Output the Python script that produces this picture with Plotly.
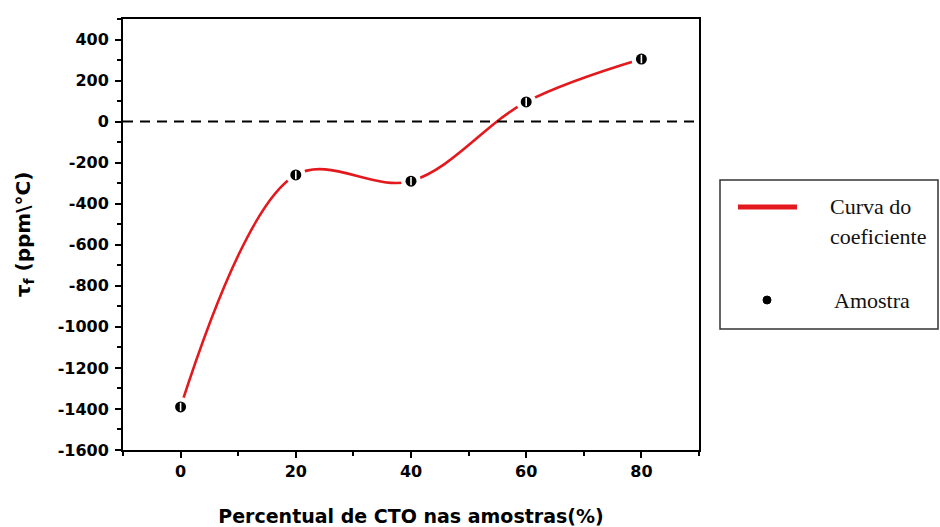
import plotly.graph_objects as go

# Temperature coefficient of resonant frequency vs. CTO content
cto_pct = [0, 20, 40, 60, 80]
tau_f = [-1390, -260, -290, 96, 305]

x_tickvals = [0, 20, 40, 60, 80]
y_tickvals = [400, 200, 0, -200, -400, -600, -800, -1000, -1200, -1400, -1600]
y_ticktext = ["400", "200", "0", "-200", "-400", "-600", "-800", "-1000", "-1200", "-1400", "-1600"]

x_range = [-10, 90]
y_range = [-1600, 500]

W, H = 940, 527
ML, MR, MT, MB = 123, 241, 19, 77
PW, PH = W - ML - MR, H - MT - MB


def pxx(x):
    """pixel x -> paper x"""
    return (x - ML) / PW


def pxy(y):
    """pixel y -> paper y"""
    return (H - MB - y) / PH


RED = "#e3191e"
SANS = "DejaVu Sans, Arial, sans-serif"
tick_font = dict(family=SANS, size=16, color="black", weight="bold")
serif = dict(family="Liberation Serif, Times New Roman, serif", size=22, color="#111111")

fig = go.Figure()

# smooth fitted curve
fig.add_trace(go.Scatter(
    x=cto_pct, y=tau_f, mode="lines",
    line=dict(color=RED, width=2.6, shape="spline", smoothing=1.0),
    showlegend=False, hoverinfo="skip",
))
# white halo around each sample point
fig.add_trace(go.Scatter(
    x=cto_pct, y=tau_f, mode="markers",
    marker=dict(symbol="circle", size=20, color="white"),
    showlegend=False, hoverinfo="skip",
))
# sample points
fig.add_trace(go.Scatter(
    x=cto_pct, y=tau_f, mode="markers",
    marker=dict(symbol="circle", size=11, color="black"),
    showlegend=False,
))
fig.add_trace(go.Scatter(
    x=cto_pct, y=tau_f, mode="markers",
    marker=dict(symbol="line-ns", size=6, line=dict(color="white", width=1.6)),
    showlegend=False, hoverinfo="skip",
))

# zero reference
fig.add_hline(y=0, line=dict(color="black", width=2, dash="10px,7px"))

axis_common = dict(
    showline=True, linecolor="black", linewidth=2, mirror=True,
    showgrid=False, zeroline=False, automargin=False,
    ticks="outside", ticklen=6, tickwidth=2, tickcolor="black",
    tickfont=tick_font,
)

fig.update_xaxes(
    range=x_range, tickmode="array", tickvals=x_tickvals,
    minor=dict(ticks="outside", tickmode="linear", dtick=10, tick0=0, ticklen=4, tickwidth=1.5, tickcolor="black"),
    title=dict(text="Percentual de CTO nas amostras(%)",
               font=dict(family=SANS, size=19, color="black", weight="bold"),
               standoff=30),
    **axis_common,
)
fig.update_yaxes(
    range=y_range, tickmode="array", tickvals=y_tickvals, ticktext=y_ticktext,
    minor=dict(ticks="outside", tickmode="linear", dtick=100, tick0=0, ticklen=4, tickwidth=1.5, tickcolor="black"),
    ticklabelstandoff=3,
    title=dict(text="τ<sub>f</sub> (ppm\\°C)",
               font=dict(family=SANS, size=20, color="black", weight="bold"),
               standoff=22),
    **axis_common,
)

# legend box drawn by hand
shapes = [
    dict(type="rect", xref="paper", yref="paper",
         x0=pxx(720), x1=pxx(938), y0=pxy(329), y1=pxy(180),
         line=dict(color="#333333", width=1.5), fillcolor="white", layer="below"),
    dict(type="line", xref="paper", yref="paper",
         x0=pxx(738), x1=pxx(797), y0=pxy(207), y1=pxy(207),
         line=dict(color=RED, width=5)),
    dict(type="circle", xref="paper", yref="paper",
         x0=pxx(763), x1=pxx(771), y0=pxy(304), y1=pxy(296),
         line=dict(color="black", width=1), fillcolor="black"),
]
for s in shapes:
    fig.add_shape(**s)

annotations = [
    dict(text="Curva do", x=pxx(828), y=pxy(206)),
    dict(text="coeficiente", x=pxx(828), y=pxy(236)),
    dict(text="Amostra", x=pxx(832), y=pxy(300)),
]
for a in annotations:
    fig.add_annotation(xref="paper", yref="paper", xanchor="left", yanchor="middle",
                       showarrow=False, font=serif, **a)

fig.update_layout(
    width=W, height=H,
    margin=dict(l=ML, r=MR, t=MT, b=MB),
    paper_bgcolor="white", plot_bgcolor="white",
    showlegend=False,
)

fig.write_html("out.html")
